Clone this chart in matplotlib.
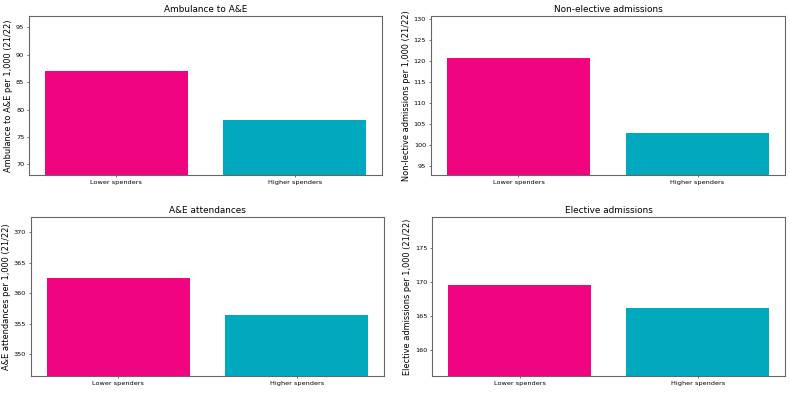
import matplotlib
matplotlib.use("Agg")
import matplotlib.pyplot as plt

categories = ["Lower spenders", "Higher spenders"]
titles = ["Ambulance to A&E", "Non-elective admissions", "A&E attendances", "Elective admissions"]
ylabels = ["Ambulance to A&E per 1,000 (21/22)",
           "Non-lective admissions per 1,000 (21/22)",
           "A&E attendances per 1,000 (21/22)",
           "Elective admissions per 1,000 (21/22)"]
ambulance = [87.1, 78.07]
non_elective = [120.6, 102.9]
ae_attend = [362.4, 356.44]
elective = [169.5, 166.2]
series = [ambulance, non_elective, ae_attend, elective]
colors = ["#F0047F", "#00A9BD"]

fig = plt.figure(figsize=(16, 393 / 49.375), dpi=49.375)
positions = [
    [0.0367, 0.5547, 0.4468, 0.4046],
    [0.5452, 0.5547, 0.4488, 0.4046],
    [0.0392, 0.0433, 0.4468, 0.4037],
    [0.5472, 0.0433, 0.4465, 0.4037],
]
for pos, vals, t, yl in zip(positions, series, titles, ylabels):
    ax = fig.add_axes(pos)
    ax.bar(categories, vals, color=colors, width=0.8)
    ax.set_ylim(min(vals) - 10, max(vals) + 10)
    ax.set_title(t, fontsize=13)
    ax.set_ylabel(yl, fontsize=12)
    ax.tick_params(axis="both", labelsize=9.5)
    for s in ax.spines.values():
        s.set_color("#666666")
        s.set_linewidth(1.6)

fig.savefig("out.png", dpi=49.375)
